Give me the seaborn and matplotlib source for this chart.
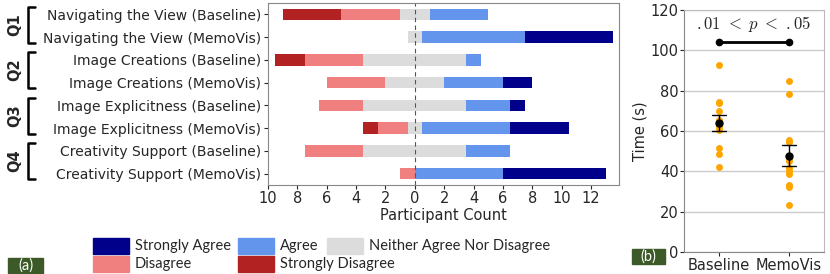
import numpy as np
import pandas as pd
import matplotlib
matplotlib.use('Agg')
import matplotlib.pyplot as plt
import matplotlib.transforms as mtransforms
from matplotlib.patches import Rectangle
from matplotlib.lines import Line2D
import seaborn as sns

sns.set_style('white')
plt.rcParams['font.family'] = ['DejaVu Sans']
plt.rcParams['mathtext.fontset'] = 'cm'

# Likert answers (counts per answer)
labels = ['Navigating the View (Baseline)', 'Navigating the View (MemoVis)',
          'Image Creations (Baseline)', 'Image Creations (MemoVis)',
          'Image Explicitness (Baseline)', 'Image Explicitness (MemoVis)',
          'Creativity Support (Baseline)', 'Creativity Support (MemoVis)']
strongly_disagree = [4, 0, 2, 0, 0, 1, 0, 0]
disagree = [4, 0, 4, 4, 3, 2, 4, 1]
neither = [2, 1, 7, 4, 7, 1, 7, 0]
agree = [4, 7, 1, 4, 3, 6, 3, 6]
strongly_agree = [0, 6, 0, 2, 1, 4, 0, 7]
questions = ['Q1', 'Q2', 'Q3', 'Q4']

# task time (s)
conditions = ['Baseline', 'MemoVis']
baseline_time = [92.8, 74.5, 73.7, 70.0, 65.5, 64.0, 63.0, 62.0, 60.5, 51.7, 48.8, 42.3]
memovis_time = [85.0, 78.5, 55.3, 54.6, 46.2, 45.3, 41.5, 40.2, 38.8, 33.2, 32.1, 23.3]

c_sa, c_a, c_n, c_d, c_sd = '#00008B', '#6495ED', '#DCDCDC', '#F08080', '#B22222'

df = pd.DataFrame({'label': labels, 'sd': strongly_disagree, 'd': disagree,
                   'n': neither, 'a': agree, 'sa': strongly_agree})
half = df['n'] / 2
# cumulative extents, drawn back to front
layers = [
    (-(half + df['d'] + df['sd']), c_sd),
    (-(half + df['d']), c_d),
    (-half, c_n),
    (half + df['a'] + df['sa'], c_sa),
    (half + df['a'], c_a),
    (half, c_n),
]

W, H = 830, 274
fig = plt.figure(figsize=(W / 100, H / 100), dpi=100)
ax1 = fig.add_axes([268 / W, 1 - 185 / H, (619 - 268) / W, (185 - 3) / H])
ax2 = fig.add_axes([684 / W, 1 - 252 / H, (824 - 684) / W, (252 - 10) / H])

for vals, col in layers:
    sns.barplot(x=vals, y=df['label'], order=labels, orient='h', color=col,
                saturation=1, width=0.5, linewidth=0, ax=ax1)

ax1.axvline(0, color='#555555', linestyle='--', linewidth=0.8, dashes=(4, 3))
ax1.set_xlim(-10, 13.9)
ax1.set_ylim(7.5, -0.5)
xt = np.arange(-10, 13, 2)
ax1.set_xticks(xt)
ax1.set_xticklabels([str(abs(v)) for v in xt], fontsize=10.5)
ax1.tick_params(axis='y', labelsize=10, length=3, left=True, pad=2)
ax1.tick_params(axis='x', length=3, bottom=True, pad=1)
ax1.set_ylabel('')
ax1.set_xlabel('Participant Count', fontsize=10.5, labelpad=2)
for s in ax1.spines.values():
    s.set_color('#888888')

# question brackets
trans = mtransforms.blended_transform_factory(fig.transFigure, ax1.transData)
for i, q in enumerate(questions):
    y0, y1 = 2 * i - 0.33, 2 * i + 1.25
    xv, xh = 28 / W, 35 / W
    fig.add_artist(Line2D([xh, xv, xv, xh], [y0, y0, y1, y1], color='black',
                          linewidth=1.8, transform=trans))
    fig.text(15 / W, 2 * i + 0.45, q, transform=trans, rotation=90,
             fontweight='bold', fontsize=10.5, ha='center', va='center')

# time chart
tdf = pd.DataFrame({'cond': ['Baseline'] * len(baseline_time) + ['MemoVis'] * len(memovis_time),
                    'time': baseline_time + memovis_time})
sns.stripplot(data=tdf, x='cond', y='time', order=conditions, jitter=False,
              color='orange', size=5, ax=ax2, zorder=2)
sns.pointplot(data=tdf, x='cond', y='time', order=conditions, errorbar='se',
              color='black', linestyle='none', markersize=4, capsize=0.2,
              err_kws={'linewidth': 1}, ax=ax2, zorder=3)
ax2.plot([0, 1], [104, 104], color='black', linewidth=2, marker='o', markersize=4.5)
ax2.text(0.5, 108, r'$.01\ <\ p\ <\ .05$', ha='center', va='bottom', fontsize=12)
ax2.set_xlim(-0.5, 1.5)
ax2.set_ylim(0, 120)
ax2.set_yticks(range(0, 121, 20))
ax2.yaxis.grid(True, color='#cccccc', linewidth=1)
ax2.set_axisbelow(True)
ax2.tick_params(labelsize=10.5, length=3, left=True, bottom=True, pad=1)
ax2.set_xlabel('')
ax2.set_ylabel('Time (s)', fontsize=10.5, labelpad=2)
for s in ax2.spines.values():
    s.set_color('#bbbbbb')
ax2.spines['left'].set_color('#888888')
ax2.spines['bottom'].set_color('#888888')

# legend drawn by hand (two rows)
def legend_item(x, y, color, text):
    fig.add_artist(Rectangle((x / W, 1 - (y + 8) / H), 36 / W, 16 / H,
                             transform=fig.transFigure, color=color))
    fig.text((x + 42) / W, 1 - y / H, text, fontsize=10.5, family='Lato',
             va='center', ha='left')

legend_item(93, 246, c_sa, 'Strongly Agree')
legend_item(238, 246, c_a, 'Agree')
legend_item(327, 246, c_n, 'Neither Agree Nor Disagree')
legend_item(93, 264, c_d, 'Disagree')
legend_item(238, 264, c_sd, 'Strongly Disagree')

# panel tags
def tag(x0, y0, x1, y1, text):
    fig.add_artist(Rectangle((x0 / W, 1 - y1 / H), (x1 - x0) / W, (y1 - y0) / H,
                             transform=fig.transFigure, color='#3b5a27'))
    fig.text((x0 + x1) / 2 / W, 1 - (y0 + y1) / 2 / H, text, color='white',
             fontsize=10.5, family='Lato', ha='center', va='center')

tag(8, 258, 43, 273, '(a)')
tag(632, 249, 665, 264, '(b)')

fig.savefig('out.png', dpi=100)
